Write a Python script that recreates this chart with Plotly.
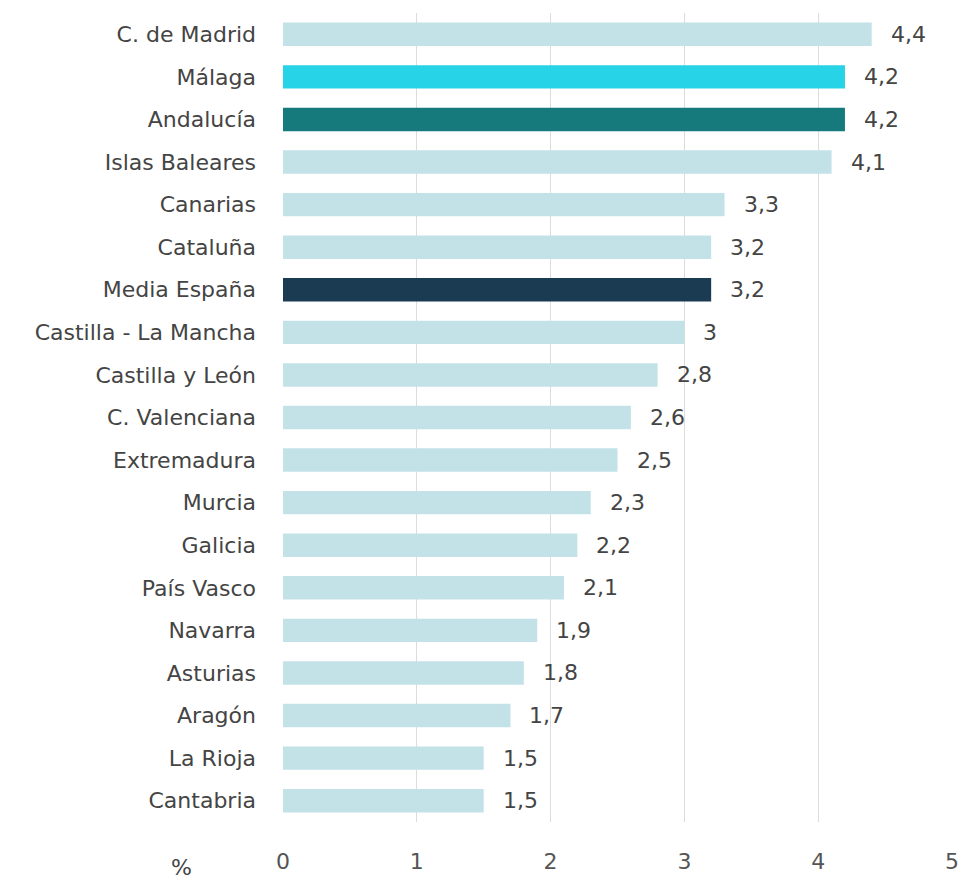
import plotly.graph_objects as go

categories = ["C. de Madrid", "Málaga", "Andalucía", "Islas Baleares", "Canarias", "Cataluña",
              "Media España", "Castilla - La Mancha", "Castilla y León", "C. Valenciana",
              "Extremadura", "Murcia", "Galicia", "País Vasco", "Navarra", "Asturias",
              "Aragón", "La Rioja", "Cantabria"]
values = [4.4, 4.2, 4.2, 4.1, 3.3, 3.2, 3.2, 3.0, 2.8, 2.6, 2.5, 2.3, 2.2, 2.1, 1.9, 1.8, 1.7, 1.5, 1.5]
labels = ["4,4", "4,2", "4,2", "4,1", "3,3", "3,2", "3,2", "3", "2,8", "2,6", "2,5", "2,3",
          "2,2", "2,1", "1,9", "1,8", "1,7", "1,5", "1,5"]
x_ticks = [0, 1, 2, 3, 4, 5]

light = "#c3e2e8"
special = {"Málaga": "#27d3e6", "Andalucía": "#167a7d", "Media España": "#1b3b52"}
colors = [special.get(c, light) for c in categories]

font_family = "'DejaVu Sans', 'Open Sans', sans-serif"

fig = go.Figure()
fig.add_trace(go.Bar(
    y=categories, x=values, orientation="h",
    marker=dict(color=colors, line=dict(width=0)),
    width=0.55, hoverinfo="skip",
))

for c, v, t in zip(categories, values, labels):
    fig.add_annotation(x=v, y=c, text=t, showarrow=False, xanchor="left", xshift=17,
                       font=dict(size=22, color="#444444", family=font_family))

fig.add_annotation(x=0, y=0, xref="paper", yref="paper", text="%", showarrow=False,
                   xanchor="center", yanchor="middle", xshift=-102, yshift=-45,
                   font=dict(size=22, color="#444444", family=font_family))

fig.update_layout(
    width=962, height=871,
    margin=dict(l=275, r=18, t=5, b=54),
    paper_bgcolor="white", plot_bgcolor="white",
    showlegend=False,
    font=dict(family=font_family, color="#444444", size=22),
)
fig.update_xaxes(range=[0, 5], tickvals=x_ticks, ticktext=[str(v) for v in x_ticks],
                 showgrid=True, gridcolor="#dcdcdc", gridwidth=1, zeroline=False,
                 showline=False, ticks="", ticklabelstandoff=24,
                 tickfont=dict(size=22, color="#555555"))
fig.update_yaxes(categoryorder="array", categoryarray=categories, autorange="reversed",
                 showgrid=False, zeroline=False, showline=False, ticks="",
                 ticklabelstandoff=26, tickfont=dict(size=22, color="#444444"))

fig.write_html("out.html")
